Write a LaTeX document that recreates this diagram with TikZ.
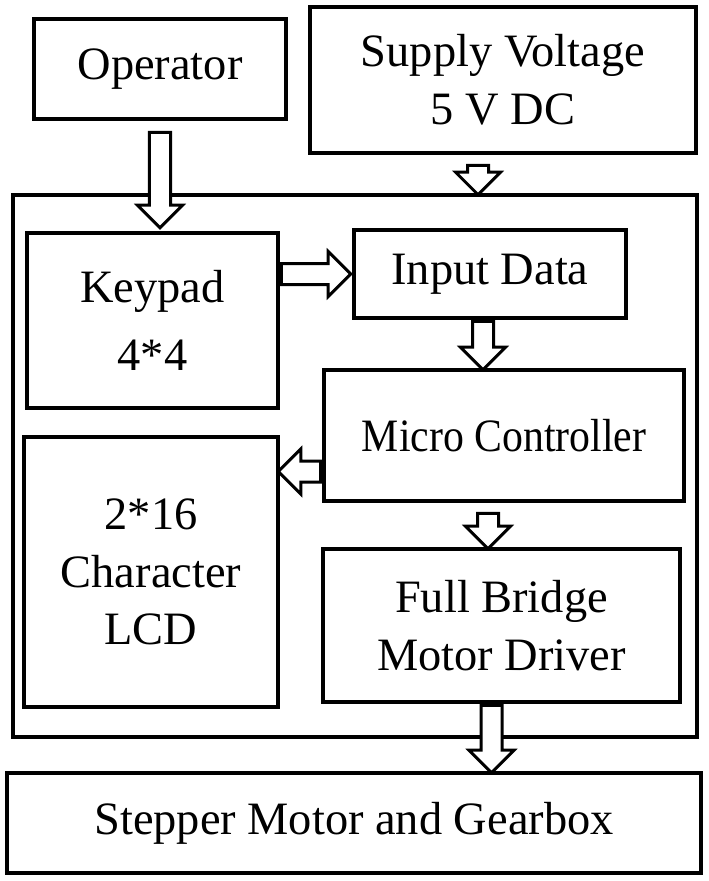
\documentclass[tikz,border=0pt]{standalone}
\usepackage{fontspec}
\setmainfont{Liberation Serif}
\newfontfamily\narrowfont[FakeStretch=0.9]{Liberation Serif}
\usetikzlibrary{shapes.arrows, calc}

\tikzset{
  blk/.style={draw, line width=0.09cm, inner sep=0pt, align=center,
    font=\fontsize{33}{41}\selectfont},
  harrow/.style={single arrow, draw, fill=white, line width=0.075cm,
    inner sep=0pt, inner ysep=0.225cm, single arrow head extend=0.3cm,
    single arrow tip angle=90},
  hollow/.style={to path={let \p1=(\tikztostart), \p2=(\tikztotarget),
    \n1={veclen(\x2-\x1,\y2-\y1)} in
    -- (\tikztotarget) node[pos=0, sloped, allow upside down, anchor=tail,
      harrow, minimum height=\n1] {}}}
}

\begin{document}
\begin{tikzpicture}[x=0.025cm, y=-0.025cm]
\useasboundingbox (0,0) rectangle (709,881);

% outside blocks
\node[blk, minimum width=6.3cm, minimum height=2.5cm] (op) at (160,69) {Operator};
\node[blk, minimum width=9.65cm, minimum height=3.65cm] (sup) at (503,80) {Supply Voltage\\5 V DC};
\node[blk, minimum width=17.35cm, minimum height=2.5cm] (step) at (354,823) {Stepper Motor and Gearbox};

% main board
\node[blk, minimum width=17.1cm, minimum height=13.55cm] (big) at (355,466) {};
\node[blk, minimum width=6.275cm, minimum height=4.375cm] (key) at (152.5,320.5) {Keypad\\[0.275cm]4*4};
\node[blk, minimum width=6.8cm, minimum height=2.2cm] (inp) at (490,274) {Input Data};
\node[blk, minimum width=9cm, minimum height=3.275cm] (mc) at (504,435.5) {\narrowfont Micro Controller};
\node[blk, minimum width=6.35cm, minimum height=6.75cm] (lcd) at (151,572) {2*16\\Character\\LCD};
\node[blk, minimum width=8.925cm, minimum height=3.825cm] (fb) at (501.5,625.5) {Full Bridge\\Motor Driver};

% arrows
\coordinate (pw) at ($(sup.south)+(-25,0)$);
\coordinate (c2) at ($(inp.south)+(-7,0)$);
\coordinate (c3) at ($(mc.west)+(0,36)$);
\coordinate (c4) at ($(mc.south)+(-16,0)$);
\coordinate (c5) at ($(fb.south)+(-10,0)$);

\path ($(op.south)+(0,10)$) to[hollow] ($(op.south |- key.north)+(0,-5)$);
\path ($(pw)+(0,9)$) to[hollow] (pw |- big.north);
\path (key.east |- inp.west) to[hollow] ($(inp.west)+(-3,0)$);
\path (c2) to[hollow] (c2 |- mc.north);
\path (c3) to[hollow] (c3 -| lcd.east);
\path ($(c4)+(0,9)$) to[hollow] (c4 |- fb.north);
\path (c5) to[hollow] (c5 |- step.north);
\end{tikzpicture}
\end{document}
